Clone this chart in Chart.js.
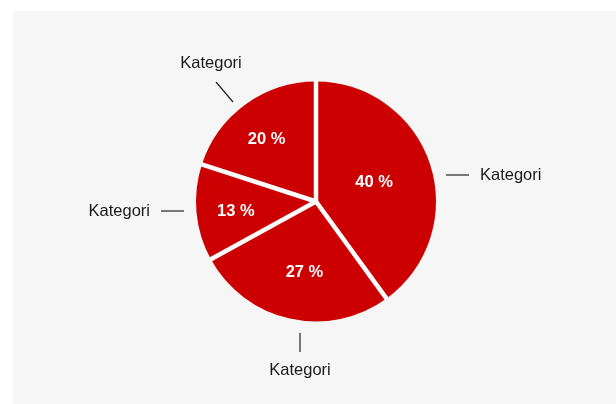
<!DOCTYPE html>
<html><head><meta charset="utf-8">
<script src="https://cdn.jsdelivr.net/npm/chart.js@4"></script>
<style>
html,body{margin:0;padding:0;background:#fff;width:616px;height:404px;overflow:hidden;}
#panel{position:absolute;left:13px;top:11px;width:603px;height:393px;background:#f6f6f6;}
canvas{display:block;}
</style></head><body>
<div id="panel"><canvas id="c" width="603" height="393"></canvas></div>
<script>
const categories = ["Kategori", "Kategori", "Kategori", "Kategori"];
const values = [40, 27, 13, 20];
const valueLabels = ["40 %", "27 %", "13 %", "20 %"];

// label geometry relative to pie centre (leader line + text anchor)
const outerLabelLayout = [
  {line:[130,-26.5,153,-26.5], text:[164,-26.5], align:"left"},
  {line:[-16,131.5,-16,150.5], text:[-16,168.5], align:"center"},
  {line:[-155,9.5,-132,9.5], text:[-166,9.5], align:"right"},
  {line:[-100,-119.5,-83,-99.5], text:[-105,-138.5], align:"center"}
];
const innerLabelLayout = [
  {frac:0.51, dAng:-0.6},
  {frac:0.595, dAng:-3.3},
  {frac:0.672, dAng:-1.4},
  {frac:0.664, dAng:-2.4}
];

const labelPlugin = {
  id: "pieLabels",
  afterDatasetsDraw(chart) {
    const ctx = chart.ctx;
    const meta = chart.getDatasetMeta(0);
    // white separators between slices
    meta.data.forEach((arc) => {
      const p = arc.getProps(["x","y","startAngle","outerRadius"], true);
      ctx.save();
      ctx.strokeStyle = "#ffffff";
      ctx.lineWidth = 4.5;
      ctx.lineCap = "butt";
      ctx.beginPath();
      ctx.moveTo(p.x, p.y);
      ctx.lineTo(p.x + Math.cos(p.startAngle) * (p.outerRadius + 1), p.y + Math.sin(p.startAngle) * (p.outerRadius + 1));
      ctx.stroke();
      ctx.restore();
    });
    meta.data.forEach((arc, i) => {
      const p = arc.getProps(["x","y","startAngle","endAngle","outerRadius"], true);
      const cx = p.x, cy = p.y;
      const mid = (p.startAngle + p.endAngle) / 2 + innerLabelLayout[i].dAng * Math.PI / 180;
      const r = p.outerRadius * innerLabelLayout[i].frac;
      ctx.save();
      ctx.fillStyle = "#ffffff";
      ctx.font = "bold 16.5px 'Liberation Sans', Arial, sans-serif";
      ctx.textAlign = "center";
      ctx.textBaseline = "middle";
      ctx.fillText(valueLabels[i], cx + Math.cos(mid) * r, cy + Math.sin(mid) * r);
      const L = outerLabelLayout[i];
      ctx.strokeStyle = "#222";
      ctx.lineWidth = 1.2;
      ctx.beginPath();
      ctx.moveTo(cx + L.line[0], cy + L.line[1]);
      ctx.lineTo(cx + L.line[2], cy + L.line[3]);
      ctx.stroke();
      ctx.fillStyle = "#1a1a1a";
      ctx.font = "16.5px 'Liberation Sans', Arial, sans-serif";
      ctx.textAlign = L.align;
      ctx.fillText(categories[i], cx + L.text[0], cy + L.text[1]);
      ctx.restore();
    });
  }
};

new Chart(document.getElementById("c"), {
  type: "pie",
  data: {
    labels: categories,
    datasets: [{
      data: values,
      backgroundColor: "#cc0000",
      borderWidth: 0,
      hoverOffset: 0
    }]
  },
  options: {
    responsive: false,
    animation: false,
    radius: 120,
    layout: {padding: {left: 183, right: 180, top: 70, bottom: 82}},
    plugins: {legend: {display: false}, tooltip: {enabled: false}, title: {display: false}}
  },
  plugins: [labelPlugin]
});
</script>
</body></html>
